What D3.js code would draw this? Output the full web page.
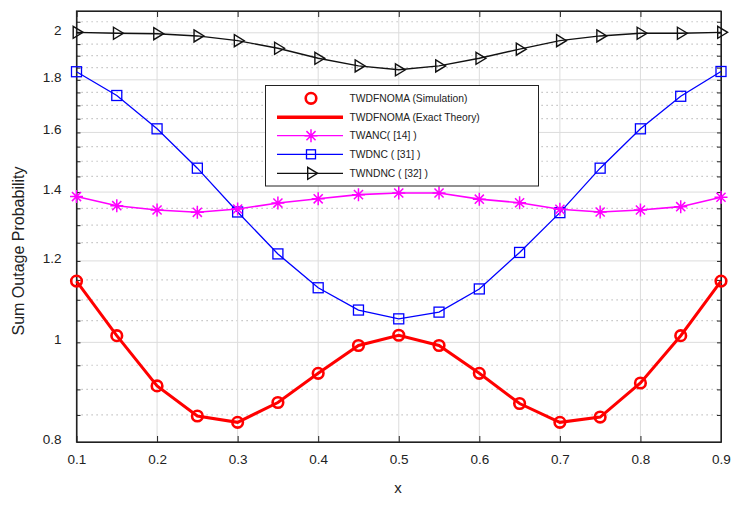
<!DOCTYPE html>
<html>
<head>
<meta charset="utf-8">
<script src="https://cdn.jsdelivr.net/npm/d3@7"></script>
<style>
  body { margin: 0; background: #fff; }
  text { font-family: "Liberation Sans", Arial, sans-serif; fill: #222; }
</style>
</head>
<body>
<svg id="chart" width="747" height="506"></svg>
<script>
var xVals = [0.1, 0.15, 0.2, 0.25, 0.3, 0.35, 0.4, 0.45, 0.5, 0.55, 0.6, 0.65, 0.7, 0.75, 0.8, 0.85, 0.9];
var twdfnoma = [1.147, 1.015, 0.907, 0.848, 0.836, 0.874, 0.933, 0.993, 1.016, 0.993, 0.933, 0.872, 0.836, 0.846, 0.913, 1.015, 1.147];
var twanc = [1.386, 1.358, 1.345, 1.338, 1.348, 1.366, 1.379, 1.392, 1.397, 1.397, 1.378, 1.367, 1.347, 1.339, 1.345, 1.355, 1.384];
var twdnc = [1.833, 1.738, 1.613, 1.477, 1.339, 1.219, 1.130, 1.075, 1.054, 1.070, 1.127, 1.223, 1.337, 1.477, 1.613, 1.735, 1.834];
var twndnc = [2.002, 1.998, 1.996, 1.986, 1.965, 1.932, 1.889, 1.857, 1.841, 1.857, 1.889, 1.928, 1.965, 1.986, 1.998, 1.998, 2.002];
var xTicks = [0.1, 0.2, 0.3, 0.4, 0.5, 0.6, 0.7, 0.8, 0.9];
var yTicks = [0.8, 1, 1.2, 1.4, 1.6, 1.8, 2];
var yMinor = [0.85, 0.9, 0.95, 1.05, 1.1, 1.15, 1.25, 1.3, 1.35, 1.45, 1.5, 1.55, 1.65, 1.7, 1.75, 1.85, 1.9, 1.95, 2.05];
var legendLabels = ['TWDFNOMA (Simulation)', 'TWDFNOMA (Exact Theory)', 'TWANC( [14] )', 'TWDNC ( [31] )', 'TWNDNC ( [32] )'];

var L = 76.5, R = 721, T = 11, B = 442;
var svg = d3.select('#chart');
var x = d3.scaleLinear().domain([0.1, 0.9]).range([L, R]);
var y = d3.scaleLog().domain([0.8, 2.1]).range([B, T]);

// grid
var g = svg.append('g');
g.selectAll('.minor').data(yMinor).enter().append('line')
  .attr('x1', L).attr('x2', R).attr('y1', function(d) { return y(d); }).attr('y2', function(d) { return y(d); })
  .style('stroke', '#b4b4b4').style('stroke-width', 1.2).style('stroke-dasharray', '1.2,3.8');
g.selectAll('.hmaj').data(yTicks).enter().append('line')
  .attr('x1', L).attr('x2', R).attr('y1', function(d) { return y(d); }).attr('y2', function(d) { return y(d); })
  .style('stroke', '#dcdcdc').style('stroke-width', 1);
g.selectAll('.vmaj').data(xTicks).enter().append('line')
  .attr('y1', T).attr('y2', B).attr('x1', function(d) { return x(d); }).attr('x2', function(d) { return x(d); })
  .style('stroke', '#dcdcdc').style('stroke-width', 1);

// axes
var yAll = yTicks.concat(yMinor);
svg.append('g').attr('transform', 'translate(' + L + ',0)')
  .call(d3.axisLeft(y).tickValues(yAll).tickSizeInner(-4).tickSizeOuter(0).tickFormat(function(d) { return yTicks.indexOf(d) >= 0 ? d3.format('~g')(d) : ''; }))
  .call(function(s) { s.selectAll('text').attr('x', -15).attr('dy', '0.1em').style('font-size', '13.5px'); });
svg.append('g').attr('transform', 'translate(' + R + ',0)')
  .call(d3.axisRight(y).tickValues(yAll).tickSizeInner(-4).tickSizeOuter(0).tickFormat(''));
svg.append('g').attr('transform', 'translate(0,' + B + ')')
  .call(d3.axisBottom(x).tickValues(xTicks).tickSizeInner(-6).tickSizeOuter(0).tickFormat(d3.format('.1f')))
  .call(function(s) { s.selectAll('text').attr('y', 12).style('font-size', '13.5px'); });
svg.append('g').attr('transform', 'translate(0,' + T + ')')
  .call(d3.axisTop(x).tickValues(xTicks).tickSizeInner(-6).tickSizeOuter(0).tickFormat(''));
svg.selectAll('.domain, .tick line').style('stroke', '#222');
svg.append('rect').attr('x', L).attr('y', T).attr('width', R - L).attr('height', B - T)
  .style('fill', 'none').style('stroke', '#222').style('stroke-width', 1.2);

svg.append('text').attr('x', 398).attr('y', 493).attr('text-anchor', 'middle').style('font-size', '15px').text('x');
svg.append('text').attr('transform', 'translate(24,251) rotate(-90)').attr('text-anchor', 'middle')
  .style('font-size', '16px').text('Sum Outage Probability');

var line = d3.line().x(function(d, i) { return x(xVals[i]); }).y(function(d) { return y(d); });

function star(sel, s) {
  sel.append('path').attr('d', 'M' + (-s) + ',0H' + s + 'M0,' + (-s) + 'V' + s +
    'M' + (-s * 0.7) + ',' + (-s * 0.7) + 'L' + (s * 0.7) + ',' + (s * 0.7) +
    'M' + (-s * 0.7) + ',' + (s * 0.7) + 'L' + (s * 0.7) + ',' + (-s * 0.7))
    .style('stroke', '#ff00ff').style('stroke-width', 1.5).style('fill', 'none');
}
function square(sel, s) {
  sel.append('rect').attr('x', -s).attr('y', -s).attr('width', 2 * s).attr('height', 2 * s)
    .style('stroke', '#0000ff').style('stroke-width', 1.3).style('fill', 'none');
}
function tri(sel, s) {
  sel.append('path').attr('d', 'M' + (-s * 0.55) + ',' + (-s) + 'L' + (s * 1.1) + ',0L' + (-s * 0.55) + ',' + s + 'Z')
    .style('stroke', '#111').style('stroke-width', 1.4).style('fill', 'none');
}
function circ(sel, r) {
  sel.append('circle').attr('r', r).style('stroke', '#ff0000').style('stroke-width', 2.6).style('fill', 'none');
}

function series(data, color, width, marker, size) {
  svg.append('path').datum(data).attr('d', line)
    .style('fill', 'none').style('stroke', color).style('stroke-width', width);
  svg.selectAll(null).data(data).enter().append('g')
    .attr('transform', function(d, i) { return 'translate(' + x(xVals[i]) + ',' + y(d) + ')'; })
    .each(function() { marker(d3.select(this), size); });
}
series(twndnc, '#111', 1.4, tri, 6);
series(twdnc, '#0000ff', 1.3, square, 5);
series(twanc, '#ff00ff', 1.6, star, 6.5);
series(twdfnoma, '#ff0000', 3, circ, 5.3);

// legend
var lg = svg.append('g');
lg.append('rect').attr('x', 265.5).attr('y', 85.5).attr('width', 273).attr('height', 100.5)
  .style('fill', '#fff').style('stroke', '#222').style('stroke-width', 1);
var rows = [98.3, 117.3, 135.7, 154.3, 173.3];
var lineSpecs = [null, ['#ff0000', 3.5], ['#ff00ff', 1.3], ['#0000ff', 1.3], ['#111', 1.3]];
var markers = [[circ, 5.3], null, [star, 6.5], [square, 4.5], [tri, 6]];
legendLabels.forEach(function(t, i) {
  if (lineSpecs[i]) {
    lg.append('line').attr('x1', 277).attr('x2', 343).attr('y1', rows[i]).attr('y2', rows[i])
      .style('stroke', lineSpecs[i][0]).style('stroke-width', lineSpecs[i][1]);
  }
  if (markers[i]) {
    var m = lg.append('g').attr('transform', 'translate(311,' + rows[i] + ')');
    markers[i][0](m, markers[i][1]);
  }
  lg.append('text').attr('x', 349.5).attr('y', rows[i] + 3.5).style('font-size', '10.3px').text(t);
});
</script>
</body>
</html>
